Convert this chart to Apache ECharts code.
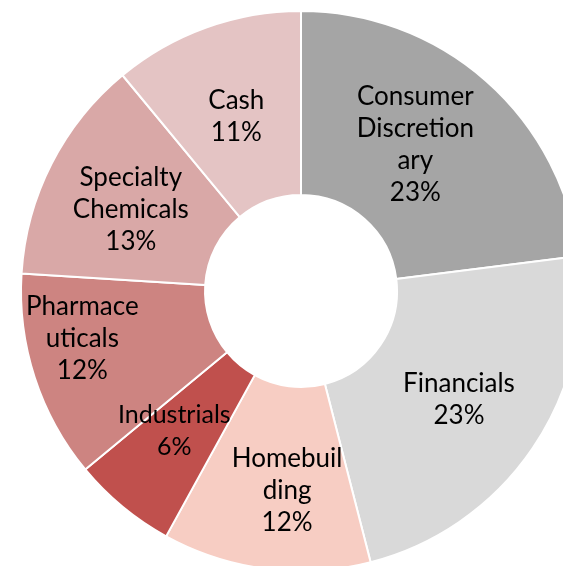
<!DOCTYPE html>
<html lang='en'>
<head>
  <meta charset='UTF-8'>
  <title>Sector allocation</title>
  <script src="https://cdn.jsdelivr.net/npm/echarts@6/dist/echarts.min.js"></script>
  <style>
    html, body {
      margin: 0;
      padding: 0;
      width: 100%;
      height: 100%;
      background: #fff;
    }
    #chart {
      width: 563px;
      height: 566px;
    }
  </style>
</head>
<body>
  <div id="chart"></div>
  <script>
    // sectors, clockwise from 12 o'clock
    const sectors = ['Consumer Discretionary', 'Financials', 'Homebuilding', 'Industrials', 'Pharmaceuticals', 'Specialty Chemicals', 'Cash']
    const weights = [23, 23, 12, 6, 12, 13, 11]
    // how the labels wrap inside the slices
    const wrapped = ['Consumer\nDiscretion\nary', 'Financials', 'Homebuil\nding', 'Industrials', 'Pharmace\nuticals', 'Specialty\nChemicals', 'Cash']
    const colors = ['#a5a5a5', '#d9d9d9', '#f7cdc3', '#c0504d', '#cd8481', '#d9a8a7', '#e4c4c4']
    const nudges = [[-12, -3], [0, 1], [10, 10], [-5, -7], [-37, -11], [0, 5], [0, 5]]

    const chart = echarts.init(document.getElementById('chart'))

    chart.setOption({
      animation: false,
      series: [
        {
          type: 'pie',
          center: [301, 291],
          radius: [96, 280],
          startAngle: 90,
          clockwise: true,
          avoidLabelOverlap: false,
          itemStyle: {
            borderColor: '#fff',
            borderWidth: 2
          },
          label: {
            show: true,
            position: 'inside',
            color: '#000',
            fontFamily: 'Lato',
            fontSize: 26,
            lineHeight: 32,
            align: 'center',
            formatter: p => wrapped[p.dataIndex] + '\n' + p.value + '%'
          },
          labelLine: { show: false },
          emphasis: { disabled: true },
          data: sectors.map((name, i) => ({
            name: name,
            value: weights[i],
            itemStyle: { color: colors[i] },
            // the thin Industrials slice hides a 26px label, so keep it a touch smaller
            label: i === 3 ? { offset: nudges[i], fontSize: 25 } : { offset: nudges[i] }
          }))
        }
      ]
    })
  </script>
</body>
</html>
